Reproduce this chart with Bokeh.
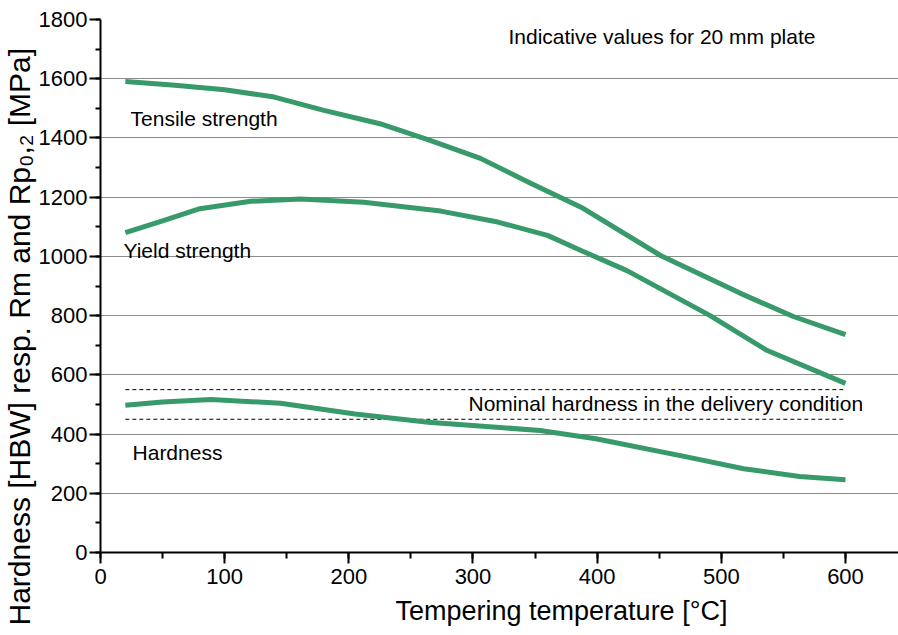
from bokeh.plotting import figure
from bokeh.models import Range1d, SingleIntervalTicker, ColumnDataSource, Title
from bokeh.core.properties import value
from bokeh.embed import file_html
from bokeh.resources import INLINE

# Data
tensile_x = [20, 60, 100, 140, 180, 225, 266, 306, 346, 387, 451, 515, 558, 600]
tensile_y = [1591, 1578, 1563, 1538, 1493, 1448, 1391, 1331, 1248, 1166, 1003, 876, 797, 736]

yield_x = [20, 50, 80, 121, 161, 212, 274, 320, 360, 387, 424, 491, 537, 600]
yield_y = [1080, 1120, 1161, 1186, 1194, 1183, 1153, 1116, 1071, 1020, 952, 800, 682, 571]

hard_x = [20, 50, 89, 145, 205, 264, 354, 399, 473, 518, 563, 600]
hard_y = [497, 508, 517, 504, 468, 440, 412, 384, 322, 283, 257, 246]

nominal_x = [20, 600]
nominal_low = 450
nominal_high = 550

labels_text = ["Tensile strength", "Yield strength", "Hardness",
               "Nominal hardness in the delivery condition",
               "Indicative values for 20 mm plate"]
labels_x = [24.2, 18.5, 25.8, 296.4, 328.6]
labels_y = [1465, 1020, 338, 503, 1743]

x_title = "Tempering temperature [°C]"
y_title = "Hardness [HBW] resp. Rm and Rp₀,₂ [MPa]"

FONT = "Liberation Sans"
GREEN = "#38996a"

p = figure(width=898, height=635, output_backend="svg", toolbar_location=None,
           x_range=Range1d(0, 642.7), y_range=Range1d(0, 1800),
           min_border_left=100, min_border_right=0, min_border_top=19, min_border_bottom=83)
p.outline_line_color = None
p.background_fill_color = "white"

# axes
p.xaxis.ticker = SingleIntervalTicker(interval=100, num_minor_ticks=2)
p.yaxis.ticker = SingleIntervalTicker(interval=200, num_minor_ticks=2)
for ax in (p.xaxis[0], p.yaxis[0]):
    ax.axis_line_width = 2
    ax.axis_line_color = "black"
    ax.major_tick_line_width = 2
    ax.minor_tick_line_width = 2
    ax.major_tick_in = 0
    ax.minor_tick_in = 0
    ax.major_tick_line_color = "black"
    ax.minor_tick_line_color = "black"
    ax.major_label_text_font = FONT
    ax.major_label_text_color = "black"

p.xaxis.major_tick_out = 11
p.xaxis.minor_tick_out = 6
p.yaxis.major_tick_out = 11
p.yaxis.minor_tick_out = 5
p.xaxis.major_label_text_font_size = "22px"
p.yaxis.major_label_text_font_size = "22px"
p.xaxis.major_label_standoff = 5
p.yaxis.major_label_standoff = 2

p.xgrid.visible = False
p.ygrid.grid_line_color = "#8c8c8c"
p.ygrid.grid_line_width = 1

# axis titles as side titles, offset to match the reference
p.add_layout(Title(text=x_title, text_font=FONT, text_font_size="27px",
                   text_font_style="normal", text_color="black",
                   align="left", offset=295, standoff=15), "below")
p.add_layout(Title(text=y_title, text_font=FONT, text_font_size="30px",
                   text_font_style="normal", text_color="black",
                   align="left", offset=-73, standoff=0), "left")

# nominal hardness band
p.line(nominal_x, [nominal_low] * 2, line_color="black", line_width=1, line_dash="4 3")
p.line(nominal_x, [nominal_high] * 2, line_color="black", line_width=1, line_dash="4 3")

# curves
for xs, ys in ((tensile_x, tensile_y), (yield_x, yield_y), (hard_x, hard_y)):
    p.line(xs, ys, line_color=GREEN, line_width=5, line_join="round")

src = ColumnDataSource(dict(x=labels_x, y=labels_y, t=labels_text))
p.text(x="x", y="y", text="t", source=src, text_font=value(FONT),
       text_font_size="21px", text_color="black", text_baseline="middle", text_align="left")

open("out.html", "w").write(file_html(p, INLINE))
